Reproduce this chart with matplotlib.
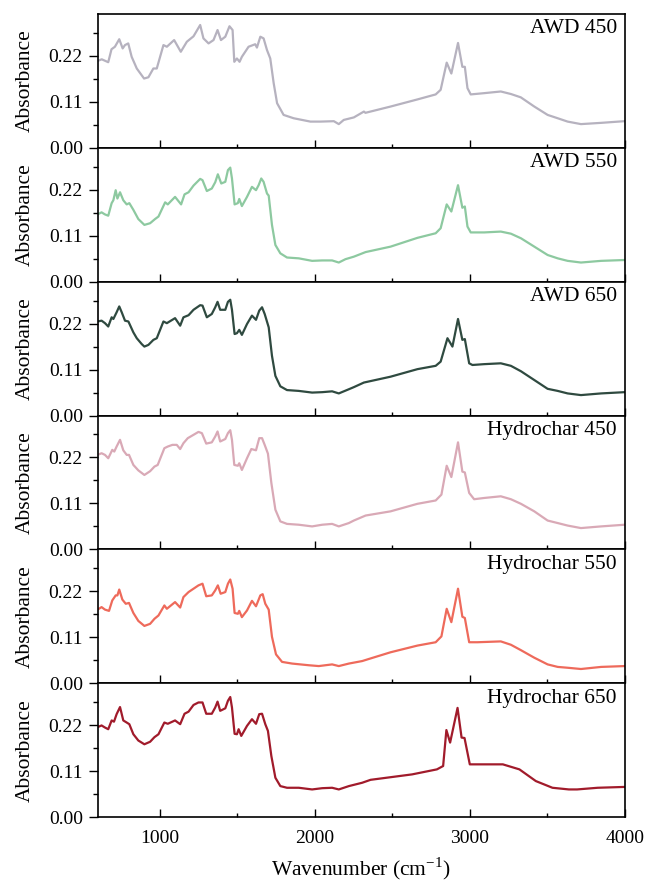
import matplotlib
matplotlib.use("Agg")
import matplotlib.pyplot as plt
from matplotlib.ticker import FixedLocator, FormatStrFormatter
import numpy as np

plt.rcParams['font.family'] = ['Liberation Serif', 'DejaVu Serif']
plt.rcParams['mathtext.fontset'] = 'custom'
plt.rcParams['mathtext.rm'] = 'Liberation Serif'

labels = ["AWD 450", "AWD 550", "AWD 650", "Hydrochar 450", "Hydrochar 550", "Hydrochar 650"]
colors = ["#b6b2bf", "#8dc9a0", "#2f4a40", "#d9a9b6", "#ee6a5b", "#a11b2b"]

wn_awd450 = [600, 627, 669, 690, 712, 740, 762, 777, 798, 820,
             853, 900, 928, 960, 982, 1025, 1047, 1094, 1137, 1176,
             1219, 1262, 1283, 1316, 1348, 1374, 1396, 1424, 1451, 1471,
             1482, 1499, 1516, 1531, 1574, 1617, 1628, 1650, 1671, 1693,
             1714, 1736, 1758, 1800, 1865, 1973, 2038, 2124, 2156, 2188,
             2253, 2318, 2328, 2490, 2663, 2781, 2813, 2852, 2882, 2925,
             2953, 2969, 2986, 3007, 3093, 3201, 3266, 3330, 3417, 3503,
             3568, 3632, 3718, 3848, 3998]
ab_awd450 = [0.208, 0.212, 0.205, 0.236, 0.242, 0.260, 0.238, 0.246, 0.250, 0.218,
             0.190, 0.166, 0.169, 0.190, 0.190, 0.246, 0.242, 0.258, 0.230, 0.254,
             0.267, 0.294, 0.262, 0.250, 0.258, 0.282, 0.258, 0.266, 0.291, 0.282,
             0.206, 0.214, 0.206, 0.218, 0.242, 0.248, 0.240, 0.266, 0.262, 0.234,
             0.214, 0.155, 0.107, 0.079, 0.071, 0.063, 0.063, 0.064, 0.057, 0.067,
             0.073, 0.087, 0.084, 0.099, 0.116, 0.128, 0.139, 0.204, 0.178, 0.251,
             0.194, 0.194, 0.143, 0.128, 0.131, 0.135, 0.129, 0.121, 0.099, 0.079,
             0.071, 0.063, 0.057, 0.060, 0.064]

wn_awd550 = [600, 626, 648, 669, 691, 702, 717, 728, 745, 766,
             788, 805, 831, 863, 902, 939, 971, 993, 1036, 1053,
             1100, 1139, 1161, 1187, 1219, 1262, 1277, 1305, 1337, 1359,
             1376, 1398, 1424, 1441, 1456, 1467, 1484, 1505, 1514, 1531,
             1564, 1596, 1622, 1639, 1656, 1671, 1693, 1704, 1725, 1747,
             1779, 1822, 1898, 1984, 2049, 2113, 2156, 2199, 2253, 2329,
             2490, 2663, 2781, 2813, 2852, 2882, 2925, 2953, 2969, 2986,
             3007, 3094, 3201, 3266, 3331, 3417, 3503, 3568, 3632, 3718,
             3848, 3999]
ab_awd550 = [0.161, 0.166, 0.161, 0.158, 0.188, 0.195, 0.219, 0.199, 0.214, 0.195,
             0.185, 0.188, 0.172, 0.150, 0.136, 0.140, 0.150, 0.156, 0.190, 0.185,
             0.203, 0.185, 0.209, 0.214, 0.230, 0.246, 0.243, 0.217, 0.223, 0.238,
             0.257, 0.235, 0.239, 0.267, 0.273, 0.247, 0.185, 0.188, 0.198, 0.181,
             0.203, 0.227, 0.219, 0.231, 0.247, 0.239, 0.211, 0.206, 0.136, 0.088,
             0.068, 0.058, 0.056, 0.050, 0.051, 0.051, 0.046, 0.054, 0.060, 0.071,
             0.084, 0.105, 0.116, 0.128, 0.185, 0.168, 0.231, 0.177, 0.180, 0.132,
             0.118, 0.118, 0.120, 0.115, 0.104, 0.084, 0.064, 0.056, 0.050, 0.046,
             0.050, 0.052]

wn_awd650 = [600, 626, 648, 669, 691, 702, 723, 740, 756, 777,
             799, 831, 853, 885, 902, 928, 960, 982, 1025, 1047,
             1100, 1133, 1154, 1187, 1219, 1262, 1277, 1305, 1337, 1359,
             1374, 1391, 1424, 1441, 1456, 1467, 1484, 1499, 1514, 1531,
             1564, 1596, 1622, 1643, 1661, 1678, 1704, 1725, 1747, 1779,
             1822, 1898, 1984, 2049, 2113, 2156, 2221, 2253, 2318, 2490,
             2663, 2781, 2813, 2857, 2889, 2925, 2953, 2969, 2997, 3018,
             3094, 3201, 3266, 3331, 3417, 3503, 3568, 3632, 3718, 3848,
             3999]
ab_awd650 = [0.225, 0.227, 0.221, 0.213, 0.235, 0.231, 0.247, 0.261, 0.247, 0.227,
             0.225, 0.199, 0.185, 0.171, 0.165, 0.169, 0.181, 0.185, 0.225, 0.221,
             0.233, 0.215, 0.235, 0.240, 0.253, 0.264, 0.263, 0.235, 0.243, 0.259,
             0.272, 0.253, 0.253, 0.272, 0.277, 0.253, 0.195, 0.197, 0.205, 0.193,
             0.219, 0.239, 0.229, 0.251, 0.259, 0.243, 0.211, 0.143, 0.095, 0.070,
             0.061, 0.059, 0.055, 0.056, 0.058, 0.053, 0.063, 0.068, 0.079, 0.093,
             0.111, 0.119, 0.129, 0.185, 0.165, 0.231, 0.181, 0.183, 0.125, 0.121,
             0.123, 0.125, 0.119, 0.106, 0.085, 0.064, 0.059, 0.053, 0.049, 0.053,
             0.056]

wn_hc450 = [600, 626, 648, 669, 695, 708, 723, 745, 766, 788,
            803, 831, 863, 902, 939, 967, 988, 1031, 1053, 1083,
            1111, 1133, 1154, 1182, 1219, 1251, 1273, 1301, 1337, 1359,
            1374, 1391, 1424, 1441, 1456, 1467, 1482, 1505, 1514, 1531,
            1564, 1592, 1622, 1643, 1661, 1678, 1699, 1721, 1747, 1779,
            1822, 1898, 1984, 2049, 2113, 2156, 2221, 2253, 2329, 2490,
            2663, 2781, 2818, 2852, 2882, 2925, 2953, 2969, 2997, 3029,
            3094, 3201, 3266, 3331, 3417, 3503, 3568, 3632, 3718, 3848,
            3999]
ab_hc450 = [0.226, 0.230, 0.226, 0.218, 0.238, 0.234, 0.246, 0.262, 0.237, 0.226,
            0.226, 0.202, 0.189, 0.178, 0.187, 0.198, 0.202, 0.242, 0.246, 0.250,
            0.250, 0.240, 0.254, 0.266, 0.274, 0.281, 0.278, 0.253, 0.256, 0.270,
            0.282, 0.258, 0.264, 0.278, 0.285, 0.262, 0.202, 0.200, 0.206, 0.190,
            0.218, 0.240, 0.237, 0.266, 0.266, 0.250, 0.229, 0.159, 0.095, 0.067,
            0.061, 0.059, 0.055, 0.059, 0.061, 0.055, 0.063, 0.069, 0.081, 0.091,
            0.109, 0.117, 0.131, 0.200, 0.173, 0.256, 0.186, 0.184, 0.135, 0.120,
            0.123, 0.127, 0.120, 0.109, 0.091, 0.069, 0.063, 0.057, 0.051, 0.055,
            0.059]

wn_hc550 = [600, 626, 648, 674, 695, 717, 728, 740, 760, 782,
            803, 831, 863, 902, 939, 967, 993, 1031, 1047, 1100,
            1133, 1154, 1187, 1219, 1251, 1277, 1301, 1337, 1359, 1376,
            1394, 1424, 1441, 1456, 1471, 1484, 1505, 1514, 1531, 1564,
            1596, 1622, 1650, 1665, 1682, 1704, 1725, 1751, 1790, 1855,
            1962, 2027, 2113, 2156, 2221, 2307, 2350, 2490, 2663, 2781,
            2818, 2852, 2882, 2925, 2953, 2969, 2997, 3050, 3201, 3266,
            3331, 3417, 3503, 3568, 3632, 3718, 3848, 3999]
ab_hc550 = [0.176, 0.182, 0.176, 0.173, 0.198, 0.210, 0.210, 0.224, 0.200, 0.190,
            0.192, 0.168, 0.149, 0.137, 0.142, 0.154, 0.162, 0.186, 0.178, 0.194,
            0.181, 0.206, 0.218, 0.226, 0.234, 0.238, 0.208, 0.210, 0.222, 0.234,
            0.214, 0.218, 0.238, 0.248, 0.226, 0.168, 0.166, 0.173, 0.158, 0.174,
            0.197, 0.184, 0.210, 0.213, 0.190, 0.176, 0.111, 0.069, 0.051, 0.047,
            0.043, 0.041, 0.045, 0.041, 0.047, 0.053, 0.058, 0.074, 0.090, 0.098,
            0.112, 0.178, 0.146, 0.226, 0.159, 0.156, 0.098, 0.098, 0.100, 0.092,
            0.079, 0.061, 0.045, 0.039, 0.037, 0.034, 0.039, 0.041]

wn_hc650 = [600, 626, 648, 669, 691, 706, 723, 745, 766, 788,
            805, 831, 863, 902, 939, 967, 993, 1031, 1053, 1100,
            1133, 1161, 1187, 1219, 1251, 1277, 1301, 1337, 1359, 1374,
            1391, 1424, 1441, 1456, 1467, 1484, 1499, 1510, 1527, 1564,
            1596, 1622, 1643, 1661, 1682, 1699, 1721, 1747, 1779, 1822,
            1898, 1984, 2049, 2113, 2156, 2221, 2307, 2361, 2629, 2789,
            2829, 2850, 2874, 2922, 2948, 2967, 3001, 3161, 3214, 3321,
            3427, 3534, 3640, 3693, 3826, 3999]
ab_hc650 = [0.215, 0.219, 0.214, 0.210, 0.231, 0.228, 0.246, 0.263, 0.231, 0.226,
            0.222, 0.198, 0.183, 0.174, 0.180, 0.191, 0.198, 0.226, 0.223, 0.231,
            0.222, 0.247, 0.252, 0.268, 0.274, 0.274, 0.247, 0.247, 0.262, 0.276,
            0.254, 0.260, 0.278, 0.287, 0.262, 0.199, 0.198, 0.210, 0.194, 0.218,
            0.234, 0.223, 0.246, 0.247, 0.222, 0.206, 0.146, 0.094, 0.074, 0.070,
            0.070, 0.066, 0.069, 0.070, 0.066, 0.074, 0.082, 0.089, 0.102, 0.114,
            0.122, 0.208, 0.178, 0.261, 0.190, 0.189, 0.126, 0.126, 0.126, 0.114,
            0.086, 0.070, 0.066, 0.066, 0.070, 0.072]

series = [(wn_awd450, ab_awd450), (wn_awd550, ab_awd550), (wn_awd650, ab_awd650),
          (wn_hc450, ab_hc450), (wn_hc550, ab_hc550), (wn_hc650, ab_hc650)]

y_major = [0.00, 0.11, 0.22]
y_minor = [0.055, 0.165, 0.275]
x_major = [1000, 2000, 3000, 4000]
x_minor = [1500, 2500, 3500]

fig = plt.figure(figsize=(6.46, 8.83), dpi=100)
fig.subplots_adjust(left=0.151, right=0.967, top=0.984, bottom=0.0747, hspace=0)
axes = fig.subplots(6, 1, sharex=True)

for ax, (wn, ab), lab, col in zip(axes, series, labels, colors):
    ax.plot(np.array(wn), np.array(ab), color=col, lw=1.6)
    ax.set_xlim(600, 4000)
    ax.set_ylim(0, 0.32)
    ax.yaxis.set_major_locator(FixedLocator(y_major))
    ax.yaxis.set_minor_locator(FixedLocator(y_minor))
    ax.yaxis.set_major_formatter(FormatStrFormatter('%.2f'))
    ax.xaxis.set_major_locator(FixedLocator(x_major))
    ax.xaxis.set_minor_locator(FixedLocator(x_minor))
    ax.tick_params(axis='y', which='major', direction='out', length=6.5, width=1.0,
                   labelsize=14, pad=4)
    ax.tick_params(axis='y', which='minor', direction='out', length=3.5, width=1.0)
    ax.tick_params(axis='x', which='major', direction='in', length=6, width=1.0,
                   labelsize=14, pad=9)
    ax.tick_params(axis='x', which='minor', direction='in', length=3, width=1.0)
    for s in ax.spines.values():
        s.set_linewidth(1.2)
    ax.set_ylabel('Absorbance', fontsize=15.5)
    ax.yaxis.set_label_coords(-0.12, 0.5)
    ax.text(0.985, 0.96, lab, transform=ax.transAxes, ha='right', va='top', fontsize=15.5)

axes[-1].set_xlabel('Wavenumber (cm$^{\\mathregular{-1}}$)', fontsize=15.5)
axes[-1].xaxis.set_label_coords(0.5, -0.285)
axes[-1].xaxis.label.set_va('top')

fig.savefig('out.png', dpi=100)
